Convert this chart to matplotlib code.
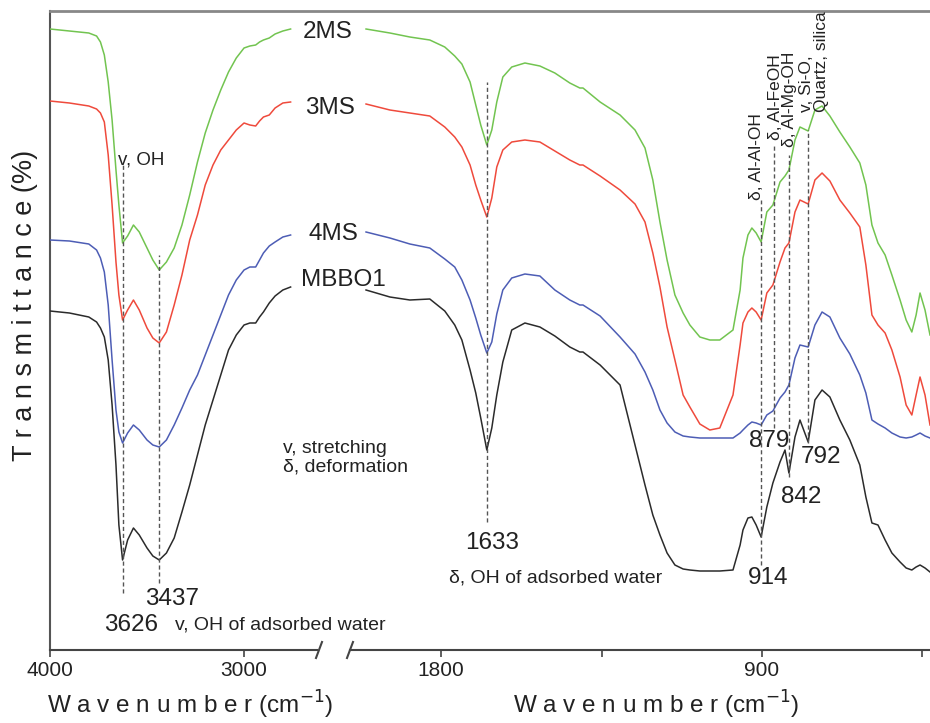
import matplotlib
matplotlib.use("Agg")
import matplotlib.pyplot as plt
from matplotlib.lines import Line2D

plt.rcParams['font.family'] = ['Liberation Sans', 'DejaVu Sans']

# ---- data -------------------------------------------------------------
# wavenumbers (cm-1) for the high and low halves of the broken axis
wn_high = [4000, 3900, 3800, 3760, 3740, 3720, 3700, 3680, 3660, 3645,
           3626, 3600, 3570, 3540, 3500, 3470, 3437, 3400, 3360, 3320,
           3280, 3240, 3200, 3160, 3120, 3080, 3040, 3000, 2970, 2940,
           2920, 2900, 2870, 2840, 2800, 2760]
wn_low = [2011, 1944, 1888, 1832, 1790, 1762, 1742, 1719, 1703, 1689,
          1672, 1658, 1644, 1627, 1602, 1565, 1523, 1481, 1439, 1411,
          1402, 1354, 1298, 1256, 1228, 1206, 1186, 1166, 1144, 1121,
          1102, 1074, 1046, 1018, 981, 961, 953, 939, 928, 916,
          902, 886, 869, 849, 835, 824, 807, 793, 770, 751,
          731, 709, 681, 653, 625, 608, 591, 574, 554, 535,
          512, 495, 479, 467, 456, 442, 428]

# transmittance (arbitrary units, spectra offset)
t_2ms_high = [621, 619, 617, 614, 608, 595, 568, 530, 480, 445,
              407, 414, 425, 418, 402, 390, 380, 388, 402, 425,
              455, 488, 517, 540, 560, 578, 592, 602, 604, 605,
              608, 610, 612, 616, 619, 621]
t_3ms_high = [549, 547, 544, 541, 537, 528, 495, 445, 388, 355,
              330, 340, 350, 340, 322, 312, 307, 318, 345, 375,
              410, 435, 465, 485, 500, 510, 520, 527, 525, 524,
              529, 533, 535, 542, 547, 548]
t_4ms_high = [410, 409, 406, 400, 392, 378, 345, 290, 240, 218,
              207, 217, 225, 220, 210, 205, 203, 210, 225, 242,
              260, 275, 295, 315, 335, 355, 370, 380, 383, 383,
              390, 397, 404, 408, 413, 415]
t_mbbo1_high = [339, 337, 333, 328, 322, 313, 290, 245, 185, 125,
                90, 110, 122, 115, 102, 94, 90, 97, 112, 138,
                165, 195, 225, 250, 275, 300, 315, 325, 327, 327,
                333, 338, 347, 354, 360, 363]

t_2ms_low = [621, 617, 613, 610, 603, 594, 586, 568, 545, 525,
             505, 520, 548, 573, 583, 587, 584, 577, 567, 562,
             562, 548, 535, 520, 502, 470, 428, 390, 355, 337,
             325, 313, 310, 310, 320, 360, 392, 415, 422, 417,
             408, 438, 445, 468, 474, 480, 510, 523, 519, 540,
             544, 534, 518, 503, 487, 465, 425, 407, 395, 375,
             350, 330, 318, 335, 357, 340, 315]
t_3ms_low = [546, 540, 537, 534, 523, 513, 503, 485, 465, 450,
             433, 452, 483, 500, 508, 510, 508, 499, 490, 485,
             485, 474, 460, 446, 428, 397, 363, 323, 290, 255,
             243, 226, 220, 222, 255, 305, 327, 338, 342, 338,
             330, 357, 365, 388, 402, 407, 438, 450, 446, 470,
             477, 469, 450, 437, 423, 385, 335, 325, 317, 300,
             273, 245, 235, 255, 273, 255, 225]
t_4ms_low = [418, 412, 406, 402, 391, 383, 370, 350, 332, 315,
             297, 308, 336, 360, 372, 376, 374, 360, 350, 345,
             345, 334, 313, 296, 278, 260, 240, 227, 218, 214,
             213, 212, 212, 212, 212, 217, 220, 225, 228, 227,
             225, 235, 239, 252, 258, 265, 292, 305, 303, 325,
             338, 333, 312, 296, 275, 257, 230, 226, 222, 217,
             213, 212, 213, 215, 217, 214, 212]
t_mbbo1_low = [360, 353, 350, 351, 339, 325, 310, 280, 257, 232,
               200, 222, 255, 288, 320, 327, 323, 314, 303, 298,
               298, 285, 265, 205, 165, 135, 115, 97, 85, 81,
               80, 79, 79, 79, 80, 105, 120, 132, 133, 125,
               113, 143, 167, 188, 200, 177, 213, 230, 208, 250,
               260, 253, 230, 210, 185, 153, 127, 125, 110, 97,
               88, 82, 80, 83, 85, 82, 78]

names = ['2MS', '3MS', '4MS', 'MBBO1']
colors = ['#72c450', '#ef4a3c', '#4d5db5', '#2b2b2b']
high = [t_2ms_high, t_3ms_high, t_4ms_high, t_mbbo1_high]
low = [t_2ms_low, t_3ms_low, t_4ms_low, t_mbbo1_low]

W, H = 930, 723


def fx(x):
    return x / W


def fy(y):
    return 1 - y / H


fig = plt.figure(figsize=(9.3, 7.23), dpi=100)

bottom = fy(650)
height = 639 / H

# frame: left spine + top line across both halves
frame = fig.add_axes([fx(50), bottom, fx(880), height])
frame.set_xticks([])
frame.set_yticks([])
for s in ['bottom', 'right']:
    frame.spines[s].set_visible(False)
frame.spines['left'].set_color('#555555')
frame.spines['left'].set_linewidth(1.5)
frame.spines['top'].set_color('#888888')
frame.spines['top'].set_linewidth(2)

ax_hi = fig.add_axes([fx(50), bottom, fx(267), height])
ax_lo = fig.add_axes([fx(350), bottom, fx(580), height])

for ax in [ax_hi, ax_lo]:
    ax.patch.set_visible(False)
    for s in ['top', 'left', 'right']:
        ax.spines[s].set_visible(False)
    ax.spines['bottom'].set_color('#444444')
    ax.spines['bottom'].set_linewidth(1.5)
    ax.set_yticks([])
    ax.set_ylim(0, 639)
    ax.tick_params(axis='x', direction='out', length=5, width=1.2,
                   color='#444444', labelsize=15, pad=3, labelcolor='#222222')

ax_hi.set_xlim(4000, 2624)
ax_lo.set_xlim(2056, 428)
ax_hi.set_xticks([4000, 3000])
ax_lo.set_xticks([1800, 1350, 900, 450])
ax_lo.set_xticklabels(['1800', '', '900', ''])

for t_hi, t_lo, c in zip(high, low, colors):
    ax_hi.plot(wn_high, t_hi, color=c, lw=1.1)
    ax_lo.plot(wn_low, t_lo, color=c, lw=1.1)

# dashed band markers
dash = dict(color='#555555', lw=1, ls=(0, (3, 2)))
ax_hi.plot([3626, 3626], [57, 485], **dash)
ax_hi.plot([3437, 3437], [67, 395], **dash)
ax_lo.plot([1672, 1672], [128, 568], **dash)
ax_lo.plot([902, 902], [85, 450], **dash)
ax_lo.plot([866, 866], [222, 505], **dash)
ax_lo.plot([824, 824], [173, 495], **dash)
ax_lo.plot([770, 770], [207, 520], **dash)

txt = '#222222'
# annotations, high-wavenumber side
ax_hi.text(3650, 490, 'v, OH', fontsize=13.5, color=txt, va='center')
ax_hi.text(3371, 51, '3437', fontsize=17.5, color=txt, ha='center', va='center')
ax_hi.text(3582, 25, '3626', fontsize=17.5, color=txt, ha='center', va='center')
ax_hi.text(3356, 25, 'v, OH of adsorbed water', fontsize=14, color=txt, va='center')
ax_hi.text(2798, 192, 'v, stretching\nδ, deformation', fontsize=14, color=txt,
           va='center', linespacing=1.1)

# annotations, low-wavenumber side
ax_lo.text(1658, 107, '1633', fontsize=17.5, color=txt, ha='center', va='center')
ax_lo.text(1480, 72, 'δ, OH of adsorbed water', fontsize=14, color=txt,
           ha='center', va='center')
ax_lo.text(882, 72, '914', fontsize=17.5, color=txt, ha='center', va='center')
ax_lo.text(880, 209, '879', fontsize=17.5, color=txt, ha='center', va='center')
ax_lo.text(790, 153, '842', fontsize=17.5, color=txt, ha='center', va='center')
ax_lo.text(734, 193, '792', fontsize=17.5, color=txt, ha='center', va='center')

rot = dict(rotation=90, fontsize=12.5, color=txt, ha='center', va='bottom')
ax_lo.text(914, 450, 'δ, Al-Al-OH', **rot)
ax_lo.text(863, 510, 'δ, Al-FeOH', **rot)
ax_lo.text(821, 503, 'δ, Al-Mg-OH', **rot)
ax_lo.text(753, 538, 'v, Si-O,\nQuartz, silica', multialignment='left',
           linespacing=1.0, **rot)

# series labels in the axis gap
label_pos = [(328, 32), (330, 108), (333, 234), (343, 280)]
for name, (x, y) in zip(names, label_pos):
    fig.text(fx(x), fy(y), name, fontsize=17.5, color=txt, ha='center', va='center')

# axis titles
xlab = 'W a v e n u m b e r (cm$^{-1}$)'
fig.text(fx(190), fy(705), xlab, fontsize=17.5, color=txt, ha='center', va='center')
fig.text(fx(656), fy(705), xlab, fontsize=17.5, color=txt, ha='center', va='center')
fig.text(fx(25), fy(305), 'T r a n s m i t t a n c e (%)', fontsize=19.5,
         color=txt, rotation=90, ha='center', va='center')

# break marks
for x in [319, 350]:
    fig.add_artist(Line2D([fx(x - 3), fx(x + 3)], [fy(658), fy(642)],
                          color='#444444', lw=1.5))

fig.savefig('out.png', dpi=100)
